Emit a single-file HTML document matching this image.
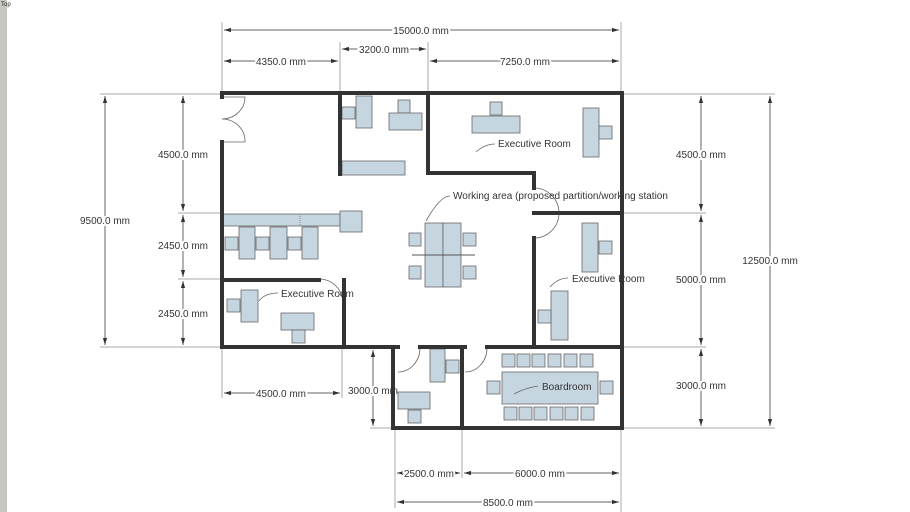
<!DOCTYPE html>
<html><head><meta charset="utf-8"><style>
html,body{margin:0;padding:0;background:#fff;}
svg{display:block;}
.d{font-family:"Liberation Sans",sans-serif;font-size:10px;fill:#333;text-anchor:middle;paint-order:stroke;stroke:#fff;stroke-width:4px;}
.l{font-family:"Liberation Sans",sans-serif;font-size:10px;fill:#333;}
.e{stroke:#aaa;stroke-width:1;fill:none;}
.w{stroke:#333;stroke-width:4;fill:none;stroke-linecap:square;}
.f{fill:#c6d6e1;stroke:#666;stroke-width:0.8;}
.a{stroke:#666;stroke-width:0.8;fill:none;}
</style></head><body>
<svg width="910" height="512" viewBox="0 0 910 512" xmlns="http://www.w3.org/2000/svg">
<defs>
<marker id="ar" viewBox="0 0 10 10" refX="10" refY="5" markerWidth="7" markerHeight="7" orient="auto-start-reverse"><path d="M0,2 L10,5 L0,8 z" fill="#333"/></marker>
</defs>
<rect x="0" y="0" width="7" height="512" fill="#c8c8c0"/>
<text x="1" y="6" font-family="Liberation Sans,sans-serif" font-size="6" fill="#222">Top</text>

<!-- extension lines -->
<g class="e">
<line x1="222" y1="22" x2="222" y2="93"/><line x1="340" y1="42" x2="340" y2="93"/>
<line x1="428" y1="42" x2="428" y2="93"/><line x1="621" y1="22" x2="621" y2="512"/>
<line x1="100" y1="94" x2="220" y2="94"/><line x1="178" y1="213" x2="222" y2="213"/>
<line x1="178" y1="279" x2="222" y2="279"/><line x1="100" y1="347" x2="220" y2="347"/>
<line x1="624" y1="94" x2="775" y2="94"/><line x1="624" y1="213" x2="706" y2="213"/>
<line x1="624" y1="347" x2="706" y2="347"/><line x1="370" y1="428" x2="775" y2="428"/>
<line x1="222" y1="349" x2="222" y2="398"/><line x1="342" y1="349" x2="342" y2="398"/>
<line x1="395" y1="430" x2="395" y2="508"/><line x1="462" y1="430" x2="462" y2="478"/>
<line x1="370" y1="348" x2="392" y2="348"/>
</g>
<!-- dimension lines -->
<g stroke="#666" stroke-width="1" marker-start="url(#ar)" marker-end="url(#ar)">
<line x1="224" y1="30" x2="619" y2="30"/>
<line x1="224" y1="61" x2="338" y2="61"/>
<line x1="342" y1="49" x2="426" y2="49"/>
<line x1="430" y1="61" x2="619" y2="61"/>
<line x1="105" y1="96" x2="105" y2="345"/>
<line x1="183" y1="96" x2="183" y2="211"/>
<line x1="183" y1="215" x2="183" y2="277"/>
<line x1="183" y1="281" x2="183" y2="345"/>
<line x1="701" y1="96" x2="701" y2="211"/>
<line x1="701" y1="215" x2="701" y2="345"/>
<line x1="701" y1="349" x2="701" y2="426"/>
<line x1="770" y1="96" x2="770" y2="426"/>
<line x1="224" y1="393" x2="340" y2="393"/>
<line x1="373" y1="350" x2="373" y2="426"/>
<line x1="397" y1="473" x2="460" y2="473"/>
<line x1="464" y1="473" x2="619" y2="473"/>
<line x1="397" y1="502" x2="619" y2="502"/>
</g>
<g>
<text class="d" x="421" y="34">15000.0 mm</text>
<text class="d" x="281" y="65">4350.0 mm</text>
<text class="d" x="384" y="53">3200.0 mm</text>
<text class="d" x="525" y="65">7250.0 mm</text>
<text class="d" x="105" y="224">9500.0 mm</text>
<text class="d" x="183" y="158">4500.0 mm</text>
<text class="d" x="183" y="249">2450.0 mm</text>
<text class="d" x="183" y="317">2450.0 mm</text>
<text class="d" x="701" y="158">4500.0 mm</text>
<text class="d" x="701" y="283">5000.0 mm</text>
<text class="d" x="701" y="389">3000.0 mm</text>
<text class="d" x="770" y="264">12500.0 mm</text>
<text class="d" x="281" y="397">4500.0 mm</text>
<text class="d" x="373" y="394">3000.0 mm</text>
<text class="d" x="429" y="477">2500.0 mm</text>
<text class="d" x="540" y="477">6000.0 mm</text>
<text class="d" x="508" y="506">8500.0 mm</text>
</g>

<!-- furniture -->
<g class="f">
<rect x="342" y="107" width="13" height="12"/><rect x="356" y="96" width="16" height="32"/>
<rect x="398" y="100" width="12" height="13"/><rect x="389" y="113" width="33" height="17"/>
<rect x="342" y="161" width="63" height="14"/>
<rect x="223" y="214" width="117" height="12"/><rect x="340" y="211" width="22" height="21"/>
<rect x="239" y="227" width="16" height="32"/><rect x="270" y="227" width="17" height="32"/><rect x="302" y="227" width="16" height="32"/>
<rect x="225" y="237" width="13" height="13"/><rect x="256" y="237" width="13" height="13"/><rect x="288" y="237" width="13" height="13"/>
<rect x="227" y="299" width="13" height="13"/><rect x="241" y="290" width="17" height="32"/>
<rect x="281" y="313" width="33" height="17"/><rect x="292" y="330" width="13" height="13"/>
<rect x="425" y="223" width="18" height="64"/><rect x="443" y="223" width="18" height="64"/>
<rect x="409" y="233" width="12" height="13"/><rect x="409" y="266" width="12" height="13"/>
<rect x="463" y="233" width="13" height="13"/><rect x="463" y="266" width="13" height="13"/>
<rect x="490" y="102" width="12" height="13"/><rect x="472" y="116" width="48" height="17"/>
<rect x="583" y="108" width="16" height="49"/><rect x="599" y="126" width="13" height="13"/>
<rect x="582" y="223" width="16" height="49"/><rect x="599" y="241" width="13" height="13"/>
<rect x="551" y="291" width="17" height="49"/><rect x="538" y="310" width="13" height="13"/>
<rect x="398" y="392" width="32" height="17"/><rect x="408" y="410" width="13" height="13"/>
<rect x="430" y="349" width="15" height="33"/><rect x="446" y="360" width="13" height="13"/>
<rect x="502" y="372" width="96" height="32"/>
<rect x="502" y="354" width="13" height="13"/><rect x="517" y="354" width="13" height="13"/><rect x="532" y="354" width="13" height="13"/><rect x="548" y="354" width="13" height="13"/><rect x="564" y="354" width="13" height="13"/><rect x="580" y="354" width="13" height="13"/>
<rect x="504" y="407" width="13" height="13"/><rect x="519" y="407" width="13" height="13"/><rect x="534" y="407" width="13" height="13"/><rect x="550" y="407" width="13" height="13"/><rect x="565" y="407" width="13" height="13"/><rect x="581" y="407" width="13" height="13"/>
<rect x="487" y="381" width="13" height="13"/><rect x="600" y="381" width="13" height="13"/>
</g>
<line x1="412" y1="255" x2="475" y2="255" stroke="#555" stroke-width="1"/>
<line x1="300" y1="214" x2="300" y2="226" stroke="#555" stroke-width="0.6" stroke-dasharray="1,1"/>

<!-- door arcs -->
<g class="a">
<path d="M222,97 L245,97 A23,22 0 0 1 222,119 A23,22 0 0 1 245,142 L222,142"/>
<path d="M320,279 A24,24 0 0 1 343,303"/>
<path d="M534,188 A25,25 0 0 1 534,238"/>
<path d="M398,372 A22,24 0 0 0 420,348"/>
<path d="M465,372 A22,24 0 0 0 487,348"/>
</g>

<!-- walls -->
<g class="w">
<path d="M222,142 L222,347 L390,347"/>
<path d="M222,93 L622,93 L622,428 L393,428 L393,347 L398,347"/>
<line x1="420" y1="347" x2="465" y2="347"/>
<line x1="487" y1="347" x2="622" y2="347"/>
<line x1="462" y1="347" x2="462" y2="428"/>
<line x1="340" y1="93" x2="340" y2="174"/>
<path d="M428,93 L428,173 L534,173 L534,188"/>
<path d="M534,238 L534,347"/>
<line x1="534" y1="213" x2="622" y2="213"/>
<line x1="222" y1="280" x2="319" y2="280"/>
<line x1="344" y1="280" x2="344" y2="347"/>
<line x1="222" y1="93" x2="222" y2="97"/>
</g>

<!-- labels -->
<g class="a">
<path d="M278,293 Q265,293 259,301"/>
<path d="M450,196 Q440,196 426,221"/>
<path d="M495,144 Q485,144 476,152"/>
<path d="M568,278 Q558,278 550,287"/>
<path d="M538,386 Q525,388 514,394"/>
</g>
<text class="l" x="281" y="297">Executive Room</text>
<text class="l" x="453" y="199">Working area (proposed partition/working station</text>
<text class="l" x="498" y="147">Executive Room</text>
<text class="l" x="572" y="282">Executive Room</text>
<text class="l" x="542" y="390">Boardroom</text>
</svg>
</body></html>
